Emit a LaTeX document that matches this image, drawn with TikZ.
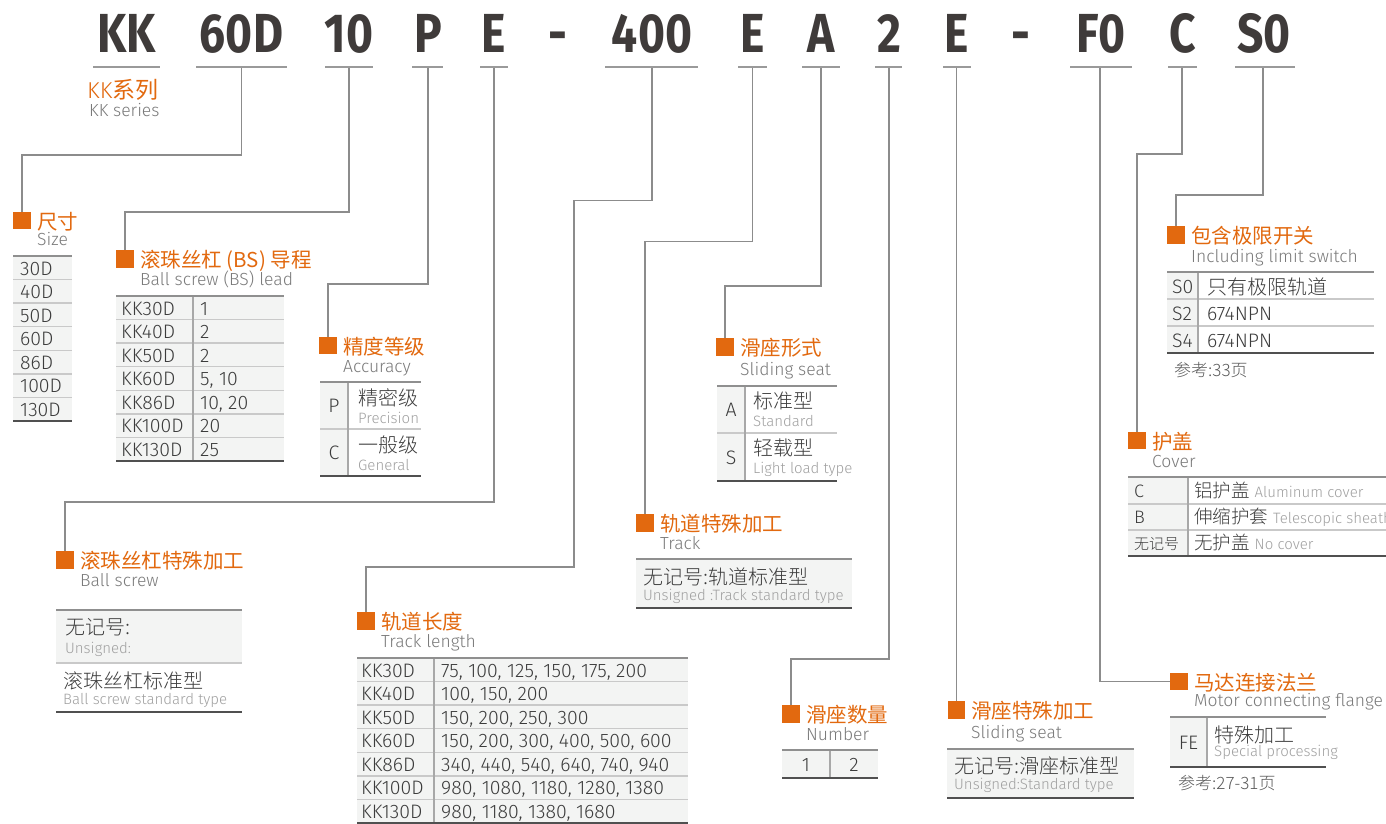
\documentclass[tikz,border=0pt]{standalone}
\usepackage{fontspec}
\IfFontExistsTF{Fira Sans Light}{\setmainfont{Fira Sans Light}}{\setmainfont{Fira Sans}}
\newfontfamily\zhfont{Noto Sans CJK SC}
\IfFontExistsTF{Noto Sans CJK SC Light}{\newfontfamily\zhlight{Noto Sans CJK SC Light}}{\newfontfamily\zhlight{Noto Sans CJK SC}}
\newfontfamily\codefont{Fira Sans}[FakeStretch=0.84]
\newcommand\zh[1]{{\zhfont #1}}
\newcommand\fs[1]{\fontsize{#1}{#1}\selectfont}
\definecolor{orangeC}{HTML}{E2690F}
\definecolor{codeC}{HTML}{3F3B3A}
\definecolor{ulC}{HTML}{9A9A9A}
\definecolor{connC}{HTML}{8C8C8C}
\definecolor{txtC}{HTML}{3C3C3C}
\definecolor{subC}{HTML}{7A7A7A}
\definecolor{smallC}{HTML}{A0A0A0}
\definecolor{bgC}{HTML}{F3F4F3}
\definecolor{sepC}{HTML}{C9C9C9}
\definecolor{topC}{HTML}{8F8F8F}
\definecolor{botC}{HTML}{505050}
\definecolor{divC}{HTML}{A8A8A8}
\begin{document}
\begin{tikzpicture}[x=1pt,y=-1pt,
  ul/.style={draw=ulC, line width=2pt},
  conn/.style={draw=connC, line width=1.3pt},
  sq/.style={fill=orangeC, minimum size=17.5pt, inner sep=0pt, draw=none},
  code/.style={anchor=base, inner sep=0pt, text=codeC, font=\fs{55}\codefont\bfseries},
  ttl/.style={anchor=base west, inner sep=0pt, text=orangeC, font=\fs{20.5}\zhfont},
  sub/.style={anchor=base west, inner sep=0pt, text=subC, font=\fs{17.5}},
  cell/.style={anchor=base west, inner sep=0pt, text=txtC, font=\fs{19.5}},
  zhcell/.style={anchor=base west, inner sep=0pt, text=txtC, font=\fs{20}\zhlight},
  small/.style={anchor=base west, inner sep=0pt, text=smallC, font=\fs{15}},
  note/.style={anchor=base west, inner sep=0pt, text=txtC!85, font=\fs{17}\zhlight},
  bg/.style={fill=bgC},
  sep/.style={draw=sepC, line width=1.5pt},
  topl/.style={draw=topC, line width=2pt},
  botl/.style={draw=botC, line width=1.5pt},
  vdiv/.style={draw=divC, line width=1.3pt}]
\useasboundingbox (0,0) rectangle (1386,824);
\fill[white] (0,0) rectangle (1386,824);

% ---------- code letters ----------
\node[code] (kKK) at (126.5,53) {KK};
\node[code] (k60D) at (241.5,53) {60D};
\node[code] (k10) at (349,53) {10};
\node[code] (kP) at (428,53) {P};
\node[code] (kE1) at (494,53) {E};
\node[code] (kd1) at (558,53) {-};
\node[code] (k400) at (652,53) {400};
\node[code] (kE2) at (752.5,53) {E};
\node[code] (kA) at (821,53) {A};
\node[code] (k2) at (889,53) {2};
\node[code] (kE3) at (957,53) {E};
\node[code] (kd2) at (1021,53) {-};
\node[code] (kF0) at (1101,53) {F0};
\node[code] (kC) at (1183,53) {C};
\node[code] (kS0) at (1264,53) {S0};

% underlines
\draw[ul] (93,67) -- (160,67);
\draw[ul] (196,67) -- (287,67);
\draw[ul] (325,67) -- (373,67);
\draw[ul] (412,67) -- (443,67);
\draw[ul] (480,67) -- (508,67);
\draw[ul] (605,67) -- (698,67);
\draw[ul] (738,67) -- (767,67);
\draw[ul] (802,67) -- (840,67);
\draw[ul] (875,67) -- (902,67);
\draw[ul] (943,67) -- (971,67);
\draw[ul] (1070,67) -- (1132,67);
\draw[ul] (1168,67) -- (1197,67);
\draw[ul] (1235,67) -- (1295,67);

\coordinate (c60) at (241.5,68);
\coordinate (c10) at (349,68);
\coordinate (cP) at (428,68);
\coordinate (cE1) at (494,68);
\coordinate (c400) at (652,68);
\coordinate (cE2) at (752.5,68);
\coordinate (cA) at (821,68);
\coordinate (c2) at (889,68);
\coordinate (cE3) at (956.5,68);
\coordinate (cF0) at (1100,68);
\coordinate (cC) at (1182,68);
\coordinate (cS0) at (1263,68);

% KK series
\node[anchor=base west, inner sep=0pt, text=orangeC, font=\fs{23}] (tKK) at (87,99) {KK\zh{系列}};
\node[sub] (sKK) at (89,117) {KK series};

% ---------- squares, titles ----------
\node[sq] (sqSize) at (22,220.5) {};
\node[ttl] (tSize) at (37,229) {尺寸};
\node[sub] (sSize) at (37,245) {Size};

\node[sq] (sqBS) at (125,259) {};
\node[ttl] (tBS) at (140,267) {滚珠丝杠 (BS) 导程};
\node[sub] (sBS) at (140,285) {Ball screw (BS) lead};

\node[sq] (sqAcc) at (328,345.5) {};
\node[ttl] (tAcc) at (343,354) {精度等级};
\node[sub] (sAcc) at (343,372) {Accuracy};

\node[sq] (sqBSS) at (65,560) {};
\node[ttl] (tBSS) at (80,568) {滚珠丝杠特殊加工};
\node[sub] (sBSS) at (80,586) {Ball screw};

\node[sq] (sqTL) at (366,621) {};
\node[ttl] (tTL) at (381,629) {轨道长度};
\node[sub] (sTL) at (381,647) {Track length};

\node[sq] (sqTS) at (645,523) {};
\node[ttl] (tTS) at (660,531) {轨道特殊加工};
\node[sub] (sTS) at (660,549) {Track};

\node[sq] (sqSS) at (725,347) {};
\node[ttl] (tSS) at (740,355) {滑座形式};
\node[sub] (sSS) at (740,375) {Sliding seat};

\node[sq] (sqNum) at (791,714) {};
\node[ttl] (tNum) at (806,722) {滑座数量};
\node[sub] (sNum) at (806,740) {Number};

\node[sq] (sqSSS) at (956.5,710) {};
\node[ttl] (tSSS) at (971,718) {滑座特殊加工};
\node[sub] (sSSS) at (971,738) {Sliding seat};

\node[sq] (sqMF) at (1179,681.5) {};
\node[ttl] (tMF) at (1194,690) {马达连接法兰};
\node[sub] (sMF) at (1194,706) {Motor connecting flange};

\node[sq] (sqCov) at (1137,440.5) {};
\node[ttl] (tCov) at (1152,449) {护盖};
\node[sub] (sCov) at (1152,467) {Cover};

\node[sq] (sqLim) at (1176,235) {};
\node[ttl] (tLim) at (1191,243) {包含极限开关};
\node[sub] (sLim) at (1191,262) {Including limit switch};

% ---------- connectors ----------
\draw[conn] (c60) -- ++(0,87) -| (sqSize.north);
\draw[conn] (c10) -- ++(0,144) -| (sqBS.north);
\draw[conn] (cP) -- ++(0,216) -| (sqAcc.north);
\draw[conn] (cE1) -- ++(0,434) -| (sqBSS.north);
\draw[conn] (c400) |- (574,200.5) -- (574,567) -| (sqTL.north);
\draw[conn] (cE2) -- ++(0,173.5) -| (sqTS.north);
\draw[conn] (cA) -- ++(0,218) -| (sqSS.north);
\draw[conn] (c2) -- ++(0,591) -| (sqNum.north);
\draw[conn] (cE3) -- (sqSSS.north);
\draw[conn] (cF0) |- (sqMF.west);
\draw[conn] (cC) -- ++(0,86) -| (sqCov.north);
\draw[conn] (cS0) -- ++(0,127) -| (sqLim.north);

% ---------- Size table ----------
\fill[bg] (13,256) rectangle (72,421);
\foreach \i in {1,...,6} {\draw[sep] (13,{256+23.57*\i}) -- (72,{256+23.57*\i});}
\draw[topl] (13,256) -- (72,256);
\draw[botl] (13,421) -- (72,421);
\foreach \v [count=\i from 0] in {30D,40D,50D,60D,86D,100D,130D}
  {\node[cell] (sz\i) at (20,{256+23.57*\i+19}) {\v};}

% ---------- BS lead table ----------
\fill[bg] (116,296) rectangle (284,461);
\foreach \i in {1,...,6} {\draw[sep] (116,{296+23.57*\i}) -- (284,{296+23.57*\i});}
\draw[vdiv] (193,296) -- (193,461);
\draw[topl] (116,296) -- (284,296);
\draw[botl] (116,461) -- (284,461);
\foreach \v [count=\i from 0] in {KK30D,KK40D,KK50D,KK60D,KK86D,KK100D,KK130D}
  {\node[cell] (bsa\i) at (121,{296+23.57*\i+19}) {\v};}
\foreach \v [count=\i from 0] in {1,2,2,{5, 10},{10, 20},20,25}
  {\node[cell] (bsb\i) at (200,{296+23.57*\i+19}) {\v};}

% ---------- Accuracy table ----------
\fill[bg] (320,382) rectangle (348,476);
\draw[sep] (320,429) -- (421,429);
\draw[vdiv] (348,382) -- (348,476);
\draw[topl] (320,382) -- (421,382);
\draw[botl] (320,476) -- (421,476);
\node[cell, anchor=base] (acP) at (334,412) {P};
\node[zhcell] (acP1) at (358,405) {精密级};
\node[small] (acP2) at (358,423) {Precision};
\node[cell, anchor=base] (acC) at (334,459) {C};
\node[zhcell] (acC1) at (358,452) {一般级};
\node[small] (acC2) at (358,470) {General};

% ---------- Ball screw special ----------
\fill[bg] (56,610) rectangle (242,663);
\draw[sep] (56,663) -- (242,663);
\draw[topl] (56,610) -- (242,610);
\draw[botl] (56,712) -- (242,712);
\node[zhcell] (bss1) at (65,634) {无记号:};
\node[small] (bss2) at (65,653) {Unsigned:};
\node[zhcell] (bss3) at (63,688) {滚珠丝杠标准型};
\node[small] (bss4) at (63,704) {Ball screw standard type};

% ---------- Track length table ----------
\fill[bg] (357,658) rectangle (688,823);
\foreach \i in {1,...,6} {\draw[sep] (357,{658+23.57*\i}) -- (688,{658+23.57*\i});}
\draw[vdiv] (434,658) -- (434,823);
\draw[topl] (357,658) -- (688,658);
\draw[botl] (357,823) -- (688,823);
\foreach \v [count=\i from 0] in {KK30D,KK40D,KK50D,KK60D,KK86D,KK100D,KK130D}
  {\node[cell] (tla\i) at (361,{658+23.57*\i+19}) {\v};}
\foreach \v [count=\i from 0] in {{75, 100, 125, 150, 175, 200},{100, 150, 200},{150, 200, 250, 300},{150, 200, 300, 400, 500, 600},{340, 440, 540, 640, 740, 940},{980, 1080, 1180, 1280, 1380},{980, 1180, 1380, 1680}}
  {\node[cell] (tlb\i) at (441,{658+23.57*\i+19}) {\v};}

% ---------- Track special ----------
\fill[bg] (636,559) rectangle (852,608);
\draw[topl] (636,559) -- (852,559);
\draw[botl] (636,608) -- (852,608);
\node[zhcell] (ts1) at (643,584) {无记号:轨道标准型};
\node[small] (ts2) at (643,600) {Unsigned :Track standard type};

% ---------- Sliding seat table ----------
\fill[bg] (717,386) rectangle (745,481);
\draw[sep] (717,433) -- (837,433);
\draw[vdiv] (745,386) -- (745,481);
\draw[topl] (717,386) -- (837,386);
\draw[botl] (717,481) -- (837,481);
\node[cell, anchor=base] (ssA) at (731,416.5) {A};
\node[zhcell] (ssA1) at (753,408) {标准型};
\node[small] (ssA2) at (753,426) {Standard};
\node[cell, anchor=base] (ssS) at (731,464) {S};
\node[zhcell] (ssS1) at (753,455) {轻载型};
\node[small] (ssS2) at (753,473) {Light load type};

% ---------- Number table ----------
\fill[bg] (782,750) rectangle (878,778);
\draw[vdiv] (830,750) -- (830,778);
\draw[topl] (782,750) -- (878,750);
\draw[botl] (782,778) -- (878,778);
\node[cell, anchor=base] (n1) at (806,771) {1};
\node[cell, anchor=base] (n2) at (854,771) {2};

% ---------- Sliding seat special ----------
\fill[bg] (947,749) rectangle (1134,798);
\draw[topl] (947,749) -- (1134,749);
\draw[botl] (947,798) -- (1134,798);
\node[zhcell] (sss1) at (954,773) {无记号:滑座标准型};
\node[small] (sss2) at (954,789) {Unsigned:Standard type};

% ---------- Motor flange ----------
\fill[bg] (1170,717) rectangle (1207,767);
\draw[vdiv] (1207,717) -- (1207,767);
\draw[topl] (1170,717) -- (1326,717);
\draw[botl] (1170,767) -- (1326,767);
\node[cell, anchor=base] (mfFE) at (1188.5,749) {FE};
\node[zhcell] (mf1) at (1214,742) {特殊加工};
\node[small] (mf2) at (1214,756) {Special processing};
\node[note] (mfref) at (1178,789) {参考:27-31页};

% ---------- Cover table ----------
\fill[bg] (1128,477) rectangle (1188,556);
\draw[sep] (1128,504) -- (1390,504);
\draw[sep] (1128,530) -- (1390,530);
\draw[vdiv] (1188,477) -- (1188,556);
\draw[topl] (1128,477) -- (1390,477);
\draw[botl] (1128,556) -- (1390,556);
\node[cell, font=\fs{18}] (cvC) at (1134,497) {C};
\node[cell, font=\fs{18}] (cvB) at (1134,523.5) {B};
\node[cell, font=\fs{15}\zhlight] (cvN) at (1134,549) {无记号};
\node[cell] (cv1) at (1194,497) {{\fs{18.5}\zhlight 铝护盖}\hspace{5pt}{\fs{15}\color{smallC}Aluminum cover}};
\node[cell] (cv2) at (1194,523.5) {{\fs{18.5}\zhlight 伸缩护套}\hspace{5pt}{\fs{15}\color{smallC}Telescopic sheath}};
\node[cell] (cv3) at (1194,549) {{\fs{18.5}\zhlight 无护盖}\hspace{5pt}{\fs{15}\color{smallC}No cover}};

% ---------- Limit switch table ----------
\fill[bg] (1167,272) rectangle (1198,353);
\draw[sep] (1167,299) -- (1374,299);
\draw[sep] (1167,326) -- (1374,326);
\draw[vdiv] (1198,272) -- (1198,353);
\draw[topl] (1167,272) -- (1374,272);
\draw[botl] (1167,353) -- (1374,353);
\node[cell] (lmS0) at (1172,293) {S0};
\node[cell] (lmS2) at (1172,320) {S2};
\node[cell] (lmS4) at (1172,347) {S4};
\node[zhcell] (lm1) at (1207,294) {只有极限轨道};
\node[cell] (lm2) at (1207,320) {674NPN};
\node[cell] (lm3) at (1207,347) {674NPN};
\node[note] (lmref) at (1174,376) {参考:33页};
\end{tikzpicture}
\end{document}
